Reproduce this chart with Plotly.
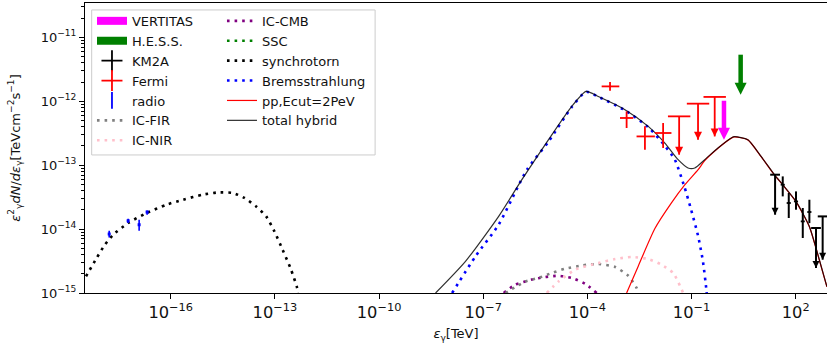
import numpy as np
import plotly.graph_objects as go

# ---------------- model curves (E in TeV, E^2 dN/dE in TeV cm^-2 s^-1) ----------------
sync_E = [3.63e-19, 7.36e-19, 1.27e-18, 2.20e-18, 5.94e-18, 2.00e-17, 7.53e-17, 2.25e-16,
          8.45e-16, 2.29e-15, 6.17e-15, 1.33e-14, 2.88e-14, 5.62e-14, 9.68e-14, 1.67e-13,
          2.92e-13, 4.37e-13, 4.68e-13]
sync_F = [1.82e-15, 3.53e-15, 5.70e-15, 8.17e-15, 1.245e-14, 1.78e-14, 2.41e-14, 2.88e-14,
          3.47e-14, 3.75e-14, 3.67e-14, 3.07e-14, 2.26e-14, 1.58e-14, 9.20e-15, 4.76e-15,
          2.32e-15, 1.20e-15, 8.9e-16]

brems_E = [1.27e-8, 5.98e-8, 2.79e-7, 1.82e-6, 7.62e-6, 3.55e-5, 9.20e-5, 2.07e-4, 1.21e-3,
           5.66e-3, 1.70e-2, 3.31e-2, 6.17e-2, 9.77e-2, 0.155, 0.214, 0.268, 0.275]
brems_F = [1.0e-15, 3.74e-15, 1.175e-14, 8.51e-14, 2.34e-13, 8.13e-13, 1.41e-12, 1.175e-12,
           7.24e-13, 3.94e-13, 2.02e-13, 1.22e-13, 4.68e-14, 2.00e-14, 7.76e-15, 3.09e-15,
           1.12e-15, 9.5e-16]

pp_E = [1.35e-3, 2.92e-3, 8.81e-3, 2.64e-2, 6.46e-2, 0.155, 0.240, 0.578, 1.40, 1.74, 4.20,
        10.1, 24.5, 42.4, 102, 248, 385, 670, 794]
pp_F = [1.0e-15, 2.63e-15, 1.02e-14, 2.57e-14, 4.95e-14, 8.51e-14, 1.175e-13, 1.84e-13,
        2.65e-13, 2.77e-13, 2.49e-13, 1.36e-13, 7.03e-14, 4.92e-14, 2.69e-14, 1.09e-14,
        5.01e-15, 1.72e-15, 1.245e-15]

total_E = [4.25e-9, 3.09e-8, 2.79e-7, 1.30e-6, 7.62e-6, 3.55e-5, 9.20e-5, 2.07e-4, 1.21e-3,
           5.66e-3, 1.71e-2, 4.11e-2, 7.94e-2, 0.124, 0.240, 0.578, 1.40, 1.74, 4.20, 10.1,
           24.5, 42.4, 102, 248, 385, 670, 794]
total_F = [1.0e-15, 3.13e-15, 1.585e-14, 5.93e-14, 2.51e-13, 8.32e-13, 1.43e-12, 1.19e-12,
           7.40e-13, 4.05e-13, 2.22e-13, 1.22e-13, 9.04e-14, 9.04e-14, 1.22e-13, 1.86e-13,
           2.67e-13, 2.79e-13, 2.51e-13, 1.37e-13, 7.08e-14, 4.95e-14, 2.71e-14, 1.10e-14,
           5.06e-15, 1.74e-15, 1.26e-15]

icfir_E = [4.37e-7, 1.62e-6, 3.89e-6, 9.55e-6, 2.29e-5, 6.92e-5, 2.07e-4, 6.31e-4, 1.51e-3,
           2.61e-3, 2.95e-3]
icfir_F = [1.0e-15, 1.51e-15, 1.72e-15, 2.06e-15, 2.40e-15, 2.70e-15, 2.84e-15, 2.55e-15,
           1.86e-15, 1.20e-15, 1.0e-15]

iccmb_E = [3.89e-7, 8.41e-7, 2.51e-6, 6.17e-6, 1.48e-5, 3.55e-5, 8.51e-5, 1.86e-4]
iccmb_F = [1.0e-15, 1.35e-15, 1.62e-15, 1.78e-15, 1.86e-15, 1.72e-15, 1.40e-15, 1.0e-15]

icnir_E = [6.76e-6, 1.48e-5, 4.47e-5, 2.09e-4, 6.31e-4, 1.87e-3, 5.66e-3, 1.36e-2, 2.95e-2,
           5.75e-2]
icnir_F = [1.0e-15, 1.51e-15, 2.32e-15, 2.95e-15, 3.40e-15, 3.66e-15, 3.40e-15, 2.77e-15,
           2.06e-15, 1.0e-15]

# ---------------- data ----------------
fermi_E = [4.50e-4, 1.35e-3, 4.55e-3, 1.52e-2]
fermi_Elo = [2.58e-4, 8.71e-4, 2.61e-3, 8.81e-3]
fermi_Ehi = [8.32e-4, 2.10e-3, 8.81e-3, 2.64e-2]
fermi_F = [1.71e-12, 5.48e-13, 2.82e-13, 3.19e-13]
fermi_Flo = [1.466e-12, 3.82e-13, 1.75e-13, 1.86e-13]
fermi_Fhi = [2.00e-12, 6.95e-13, 4.05e-13, 4.57e-13]

fermi_ul_E = [4.40e-2, 0.154, 0.465]
fermi_ul_F = [5.81e-13, 9.18e-13, 1.17e-12]
fermi_ul_tip = [1.46e-13, 2.51e-13, 2.82e-13]

km2a_E = [42.4, 63.2, 102, 160, 248]
km2a_Elo = [37.0, 55.0, 89.0, 140, 216]
km2a_Ehi = [48.5, 72.5, 117, 183, 284]
km2a_F = [4.95e-14, 2.56e-14, 2.71e-14, 1.32e-14, 1.85e-14]
km2a_Flo = [3.25e-14, 1.49e-14, 2.01e-14, 7.26e-15, 1.24e-14]
km2a_Fhi = [6.68e-14, 3.67e-14, 3.89e-14, 2.14e-14, 2.88e-14]

km2a_ul_E = [25.5, 385, 598]
km2a_ul_F = [7.10e-14, 1.04e-14, 1.58e-14]
km2a_ul_tip = [1.68e-14, 2.46e-15, 3.32e-15]

radio_E = [1.69e-18, 5.94e-18, 1.23e-17, 2.09e-17]
radio_F = [8.38e-15, 1.35e-14, 1.17e-14, 1.85e-14]
radio_Flo = [7.41e-15, 1.245e-14, 9.44e-15, 1.68e-14]
radio_Fhi = [9.44e-15, 1.456e-14, 1.40e-14, 1.96e-14]

veritas_E = [0.86]
veritas_top = [1.02e-12]
veritas_tip = [2.5e-13]

hess_E = [2.6]
hess_top = [5.36e-12]
hess_tip = [1.27e-12]

# axis ticks
y_tickvals = [1e-15, 1e-14, 1e-13, 1e-12, 1e-11]
y_ticktext = ["10<sup>−15</sup>", "10<sup>−14</sup>", "10<sup>−13</sup>",
              "10<sup>−12</sup>", "10<sup>−11</sup>"]

# ---------------- figure ----------------
FONT = "DejaVu Sans"
RED = "#ff0000"
DOT = "2.6px,5px"

fig = go.Figure()


def curve(x, y, name, color, width, dash, legend, rank):
    fig.add_trace(go.Scatter(
        x=x, y=y, mode="lines", name=name,
        line=dict(color=color, width=width, dash=dash, shape="spline", smoothing=0.6),
        legend=legend, legendrank=rank, hoverinfo="skip"))


curve(iccmb_E, iccmb_F, "IC-CMB", "#800080", 2.6, DOT, "legend2", 1)
curve([None], [None], "SSC", "#008000", 2.6, DOT, "legend2", 2)
curve(icfir_E, icfir_F, "IC-FIR", "#808080", 2.6, DOT, "legend", 6)
curve(icnir_E, icnir_F, "IC-NIR", "#ffc0cb", 2.6, DOT, "legend", 7)
curve(sync_E, sync_F, "synchrotorn", "#000000", 2.6, DOT, "legend2", 3)
curve(brems_E, brems_F, "Bremsstrahlung", "#0000ff", 2.6, DOT, "legend2", 4)
curve(pp_E, pp_F, "pp,Ecut=2PeV", RED, 1.2, "solid", "legend2", 5)
curve(total_E, total_F, "total hybrid", "rgba(0,0,0,0.82)", 1.2, "solid", "legend2", 6)


def arr(a):
    return np.asarray(a, dtype=float)


# Fermi points
fE, fF = arr(fermi_E), arr(fermi_F)
fig.add_trace(go.Scatter(
    x=fE, y=fF, mode="markers", marker=dict(size=1, color=RED), showlegend=False,
    error_x=dict(type="data", symmetric=False, array=arr(fermi_Ehi) - fE,
                 arrayminus=fE - arr(fermi_Elo), color=RED, thickness=1.8, width=0),
    error_y=dict(type="data", symmetric=False, array=arr(fermi_Fhi) - fF,
                 arrayminus=fF - arr(fermi_Flo), color=RED, thickness=1.8, width=0),
    hoverinfo="skip"))


def upper_limits(E, F, tip, color, cap, head, thick):
    E, F, tip = arr(E), arr(F), arr(tip)
    fig.add_trace(go.Scatter(
        x=E, y=F, mode="markers", showlegend=False, hoverinfo="skip",
        marker=dict(symbol="line-ew", size=cap, line=dict(color=color, width=thick)),
        error_y=dict(type="data", symmetric=False, array=np.zeros(len(E)),
                     arrayminus=F - tip, color=color, thickness=thick, width=0)))
    fig.add_trace(go.Scatter(
        x=E, y=tip, mode="markers", showlegend=False, hoverinfo="skip",
        marker=dict(symbol="arrow-down", size=head, color=color, line=dict(width=0))))


upper_limits(fermi_ul_E, fermi_ul_F, fermi_ul_tip, RED, 16, 8, 1.8)

# KM2A points
kE, kF = arr(km2a_E), arr(km2a_F)
fig.add_trace(go.Scatter(
    x=kE, y=kF, mode="markers", marker=dict(size=1, color="black"), showlegend=False,
    error_x=dict(type="data", symmetric=False, array=arr(km2a_Ehi) - kE,
                 arrayminus=kE - arr(km2a_Elo), color="black", thickness=1.8, width=0),
    error_y=dict(type="data", symmetric=False, array=arr(km2a_Fhi) - kF,
                 arrayminus=kF - arr(km2a_Flo), color="black", thickness=2, width=0),
    hoverinfo="skip"))
upper_limits(km2a_ul_E, km2a_ul_F, km2a_ul_tip, "black", 7, 7, 2)

# radio
rF = arr(radio_F)
fig.add_trace(go.Scatter(
    x=radio_E, y=rF, mode="markers", marker=dict(size=3, color="#0000ff", symbol="square"),
    showlegend=False, hoverinfo="skip",
    error_y=dict(type="data", symmetric=False, array=arr(radio_Fhi) - rF,
                 arrayminus=rF - arr(radio_Flo), color="#0000ff", thickness=1.6, width=0)))


# VERITAS / H.E.S.S. arrows
def big_arrow(E, top, tip, color):
    E, top, tip = arr(E), arr(top), arr(tip)
    for i in range(len(E)):
        fig.add_trace(go.Scatter(
            x=[E[i], E[i]], y=[top[i], tip[i] * 10 ** 0.1], mode="lines",
            line=dict(color=color, width=4.5), showlegend=False, hoverinfo="skip"))
    fig.add_trace(go.Scatter(
        x=E, y=tip, mode="markers", showlegend=False, hoverinfo="skip",
        marker=dict(symbol="arrow-down", size=12, color=color, line=dict(width=0))))


big_arrow(veritas_E, veritas_top, veritas_tip, "#ff00ff")
big_arrow(hess_E, hess_top, hess_tip, "#008000")

# legend-only entries (first column)
fig.add_trace(go.Scatter(x=[None], y=[None], mode="lines", name="VERTITAS",
                         line=dict(color="#ff00ff", width=8), legend="legend", legendrank=1))
fig.add_trace(go.Scatter(x=[None], y=[None], mode="lines", name="H.E.S.S.",
                         line=dict(color="#008000", width=8), legend="legend", legendrank=2))
fig.add_trace(go.Scatter(x=[None], y=[None], mode="markers", name="KM2A",
                         marker=dict(symbol="cross-thin", size=15,
                                     line=dict(color="black", width=1.8)),
                         legend="legend", legendrank=3))
fig.add_trace(go.Scatter(x=[None], y=[None], mode="markers", name="Fermi",
                         marker=dict(symbol="cross-thin", size=15,
                                     line=dict(color=RED, width=1.8)),
                         legend="legend", legendrank=4))
fig.add_trace(go.Scatter(x=[None], y=[None], mode="markers", name="radio",
                         marker=dict(symbol="line-ns", size=12,
                                     line=dict(color="#0000ff", width=1.8)),
                         legend="legend", legendrank=5))

legend_common = dict(xanchor="left", yanchor="top", bgcolor="rgba(0,0,0,0)", borderwidth=0,
                     font=dict(family=FONT, size=13, color="#111"), itemwidth=30,
                     tracegroupgap=0)

axis_font = dict(family=FONT, size=13, color="#111")
minor_y = [k * 10.0 ** e for e in range(-15, -10) for k in range(2, 10)]

fig.update_layout(
    width=827, height=349,
    margin=dict(l=85, r=0, t=3, b=56, autoexpand=False),
    paper_bgcolor="white", plot_bgcolor="white",
    font=dict(family=FONT, size=13, color="#111"),
    legend=dict(x=0.0094, y=0.99, **legend_common),
    legend2=dict(x=0.1846, y=0.99, **legend_common),
    xaxis=dict(type="log", range=[-18.469, 2.902], tickmode="linear", tick0=2, dtick=3,
               exponentformat="power", showexponent="all", ticks="outside", ticklen=5,
               tickcolor="black", showgrid=False, zeroline=False, showline=True,
               linecolor="black", linewidth=1, mirror=True, tickfont=axis_font,
               automargin=False,
               title=dict(text="<i>ε</i><sub>γ</sub>[TeV]", font=axis_font, standoff=8)),
    yaxis=dict(type="log", range=[-15, -10.462], tickmode="array", tickvals=y_tickvals,
               ticktext=y_ticktext, ticks="outside", ticklen=5,
               tickcolor="black", showgrid=False, zeroline=False, showline=True,
               linecolor="black", linewidth=1, tickfont=axis_font, automargin=False,
               minor=dict(ticks="outside", ticklen=3, tickcolor="black", tickvals=minor_y,
                          showgrid=False),
               title=dict(text="<i>ε</i><sup>2</sup><sub>γ</sub><i>dN</i>/<i>dε</i><sub>γ</sub>"
                               "[TeVcm<sup>−2</sup>s<sup>−1</sup>]",
                          font=axis_font, standoff=17)),
    shapes=[dict(type="rect", xref="paper", yref="paper", x0=0.009, x1=0.391,
                 y0=0.476, y1=0.976, line=dict(color="#cccccc", width=1),
                 fillcolor="rgba(255,255,255,0.8)", layer="below")],
    showlegend=True,
)

fig.write_html("out.html", config={"displayModeBar": False},
               post_script="document.body.style.margin='0';document.body.style.padding='0';")
